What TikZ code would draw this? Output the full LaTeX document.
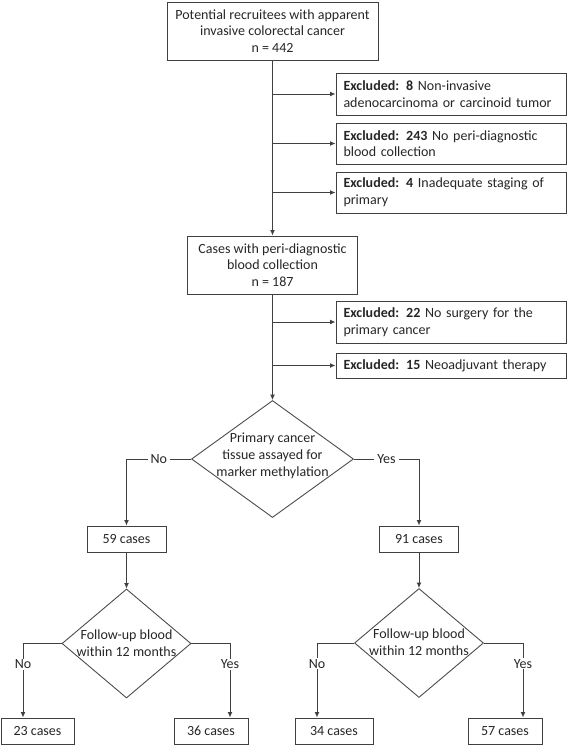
\documentclass[tikz,border=0pt]{standalone}
\usepackage{fontspec}
\setmainfont{Carlito}
\usetikzlibrary{shapes.geometric,arrows.meta}
\tikzset{
	>={Latex[length=5.5pt,width=5pt]},
	txt/.style={font=\fontsize{14}{16.7}\selectfont, text=black!85},
	box/.style={txt, draw=black!75, line width=1pt, align=center, inner sep=0pt},
	exclbox/.style={box, align=left, text width=215pt, inner xsep=7.5pt, minimum width=230pt},
	decision/.style={diamond, draw=black!70, line width=0.9pt, inner sep=0pt},
	flow/.style={->, draw=black!75, line width=1pt},
	lbl/.style={txt, fill=white, inner xsep=3pt, inner ysep=1pt}
}
\begin{document}
\begin{tikzpicture}[x=1pt,y=-1pt]
	\useasboundingbox (0,0) rectangle (567,745);
	
	\node[box, minimum width=211pt, minimum height=58pt] (top) at (272.5,31) {Potential recruitees with apparent\\invasive colorectal cancer\\n = 442};
	\node[exclbox, minimum height=42pt] (ex1) at (451,94) {\textbf{Excluded: 8} Non-invasive\\adenocarcinoma or carcinoid tumor};
	\node[exclbox, minimum height=41pt] (ex2) at (451,143.5) {\textbf{Excluded: 243} No peri-diagnostic\\blood collection};
	\node[exclbox, minimum height=41pt] (ex3) at (451,192.5) {\textbf{Excluded: 4} Inadequate staging of\\primary};
	\node[box, minimum width=170pt, minimum height=58pt] (cases) at (272.5,265) {Cases with peri-diagnostic\\blood collection\\n = 187};
	\node[exclbox, minimum height=42pt] (ex4) at (451,322) {\textbf{Excluded: 22} No surgery for the\\primary cancer};
	\node[exclbox, minimum height=25pt] (ex5) at (451,365.5) {\textbf{Excluded: 15} Neoadjuvant therapy};
	
	\node[decision, minimum width=162pt, minimum height=117pt] (tissue) at (272.5,459) {};
	\node[txt, align=center] at (272.5,456) {Primary cancer\\tissue assayed for\\marker methylation};
	\node[box, minimum width=79pt, minimum height=26pt] (c59) at (126.5,539) {59 cases};
	\node[box, minimum width=79pt, minimum height=26pt] (c91) at (419,539) {91 cases};
	
	\node[decision, minimum width=129pt, minimum height=109pt] (fupL) at (126.5,643.5) {};
	\node[txt, align=center] at (126.5,643) {Follow-up blood\\within 12 months};
	\node[decision, minimum width=129pt, minimum height=109pt] (fupR) at (419,643) {};
	\node[txt, align=center] at (419,642.5) {Follow-up blood\\within 12 months};
	
	\node[box, minimum width=73pt, minimum height=26pt] (c23) at (37.5,731) {23 cases};
	\node[box, minimum width=74pt, minimum height=26pt] (c36) at (211,731) {36 cases};
	\node[box, minimum width=78pt, minimum height=26pt] (c34) at (334,731) {34 cases};
	\node[box, minimum width=74pt, minimum height=26pt] (c57) at (505,731) {57 cases};
	
	% main column
	\draw[flow] (top) -- (cases);
	\draw[flow] (top.south |- ex1.west) -- (ex1.west);
	\draw[flow] (top.south |- ex2.west) -- (ex2.west);
	\draw[flow] (top.south |- ex3.west) -- (ex3.west);
	\draw[flow] (cases) -- (tissue);
	\draw[flow] (cases.south |- ex4.west) -- (ex4.west);
	\draw[flow] (cases.south |- ex5.west) -- (ex5.west);
	
	% branches
	\draw[flow] (tissue.west) -| node[lbl, pos=0.25]{No} (c59.north);
	\draw[flow] (tissue.east) -| node[lbl, pos=0.25]{Yes} (c91.north);
	\draw[flow] (c59) -- (fupL);
	\draw[flow] (c91) -- (fupR);
	
	\draw[flow] (fupL.west) -| node[lbl, pos=0.64]{No} ([xshift=-14.5pt]c23.north);
	\draw[flow] (fupL.east) -| node[lbl, pos=0.64]{Yes} ([xshift=19pt]c36.north);
	\draw[flow] (fupR.west) -| node[lbl, pos=0.64]{No} ([xshift=-17pt]c34.north);
	\draw[flow] (fupR.east) -| node[lbl, pos=0.64]{Yes} ([xshift=18pt]c57.north);
\end{tikzpicture}
\end{document}
